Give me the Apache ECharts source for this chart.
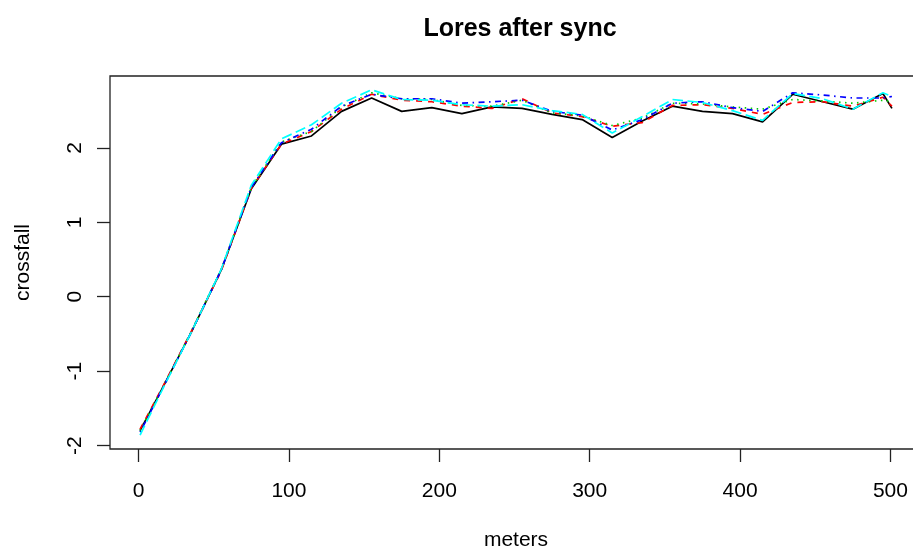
<!DOCTYPE html>
<html>
<head>
<meta charset="utf-8">
<title>Lores after sync</title>
<script src="https://cdn.jsdelivr.net/npm/echarts@6/dist/echarts.min.js"></script>
<style>
  html, body { margin: 0; padding: 0; background: #fff; overflow: hidden; }
  #chart { width: 930px; height: 548px; }
</style>
</head>
<body>
<div id="chart"></div>
<script>
// Distance along the section (m)
const meters = [1, 15, 35, 55, 75, 95, 115, 135, 155, 175, 195, 215, 235, 255, 275,
                295, 315, 335, 355, 375, 395, 415, 435, 455, 475, 495, 501];

// Crossfall of each synchronised run
const run1 = [-1.80, -1.26, -0.48, 0.36, 1.45, 2.05, 2.16, 2.49, 2.67, 2.49, 2.54, 2.46, 2.55, 2.53, 2.45,
              2.38, 2.14, 2.36, 2.56, 2.49, 2.46, 2.35, 2.72, 2.62, 2.52, 2.73, 2.53];
const run2 = [-1.78, -1.25, -0.47, 0.35, 1.46, 2.05, 2.22, 2.52, 2.72, 2.64, 2.62, 2.56, 2.53, 2.66, 2.47,
              2.42, 2.29, 2.34, 2.57, 2.58, 2.53, 2.45, 2.61, 2.62, 2.56, 2.68, 2.56];
const run3 = [-1.80, -1.26, -0.47, 0.37, 1.47, 2.08, 2.22, 2.55, 2.74, 2.66, 2.65, 2.57, 2.56, 2.64, 2.47,
              2.43, 2.30, 2.40, 2.60, 2.59, 2.55, 2.52, 2.65, 2.63, 2.60, 2.64, 2.62];
const run4 = [-1.82, -1.27, -0.48, 0.36, 1.47, 2.07, 2.25, 2.56, 2.72, 2.66, 2.66, 2.60, 2.62, 2.64, 2.49,
              2.44, 2.24, 2.38, 2.60, 2.62, 2.54, 2.49, 2.74, 2.71, 2.67, 2.67, 2.69];
const run5 = [-1.86, -1.28, -0.48, 0.37, 1.50, 2.12, 2.31, 2.60, 2.78, 2.65, 2.64, 2.58, 2.56, 2.58, 2.50,
              2.45, 2.20, 2.42, 2.65, 2.61, 2.50, 2.37, 2.73, 2.66, 2.52, 2.74, 2.69];

const xTicks = [0, 100, 200, 300, 400, 500];
const yTicks = [-2, -1, 0, 1, 2];

const runs = [
  { name: 'run1', values: run1, color: '#000000', dash: 'solid' },
  { name: 'run2', values: run2, color: '#FF0000', dash: [6, 6] },
  { name: 'run3', values: run3, color: '#00CD00', dash: [1.5, 4.5] },
  { name: 'run4', values: run4, color: '#0000FF', dash: [1.5, 4.5, 6, 4.5] },
  { name: 'run5', values: run5, color: '#00FFFF', dash: [10.5, 4.5] }
];

// Axis limits padded by 4% of the data range on each side
function padded(arrs) {
  let lo = Infinity, hi = -Infinity;
  arrs.forEach(a => a.forEach(v => { lo = Math.min(lo, v); hi = Math.max(hi, v); }));
  const d = (hi - lo) * 0.04;
  return [lo - d, hi + d];
}
const [xMin, xMax] = padded([meters]);
const [yMin, yMax] = padded(runs.map(r => r.values));

const font = 'Liberation Sans, Arial, Helvetica, sans-serif';
const tickStyle = { color: '#222', width: 1.3 };

const chart = echarts.init(document.getElementById('chart'), null, { renderer: 'canvas' });
chart.setOption({
  animation: false,
  backgroundColor: '#ffffff',
  title: {
    text: 'Lores after sync',
    left: 515, top: 12, textAlign: 'center',
    textStyle: { fontFamily: font, fontWeight: 'bold', fontSize: 25, color: '#000' }
  },
  grid: {
    left: 110, top: 76, right: 8, bottom: 99,
    outerBoundsMode: 'none', containLabel: false,
    show: true, borderColor: '#222', borderWidth: 1.3, backgroundColor: 'transparent'
  },
  xAxis: {
    type: 'value', min: xMin, max: xMax,
    name: 'meters', nameLocation: 'middle', nameGap: 81,
    nameTextStyle: { fontFamily: font, fontSize: 21, color: '#000' },
    axisLine: { show: false, onZero: false },
    splitLine: { show: false },
    axisTick: { show: true, length: 13, customValues: xTicks, lineStyle: tickStyle },
    axisLabel: { customValues: xTicks, margin: 32, fontFamily: font, fontSize: 21, color: '#000' }
  },
  yAxis: {
    type: 'value', min: yMin, max: yMax,
    name: 'crossfall', nameLocation: 'middle', nameGap: 76, nameRotate: 90,
    nameTextStyle: { fontFamily: font, fontSize: 21, color: '#000' },
    axisLine: { show: false, onZero: false },
    splitLine: { show: false },
    axisTick: { show: true, length: 13, customValues: yTicks, lineStyle: tickStyle },
    axisLabel: { customValues: yTicks, rotate: 90, margin: 24, fontFamily: font, fontSize: 21, color: '#000' }
  },
  series: runs.map(r => ({
    name: r.name,
    type: 'line',
    data: meters.map((m, i) => [m, r.values[i]]),
    showSymbol: false,
    symbol: 'none',
    lineStyle: { color: r.color, width: 1.7, type: r.dash }
  }))
});
</script>
</body>
</html>
